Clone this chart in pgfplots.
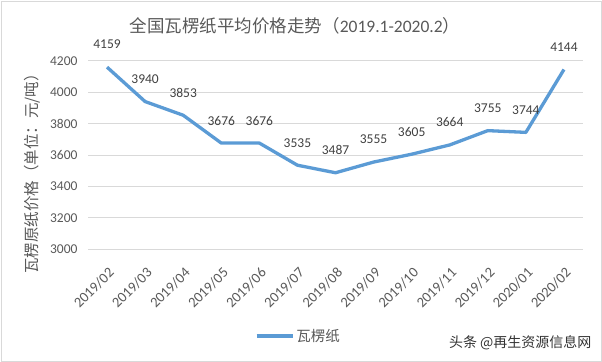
\documentclass[border=0pt]{standalone}
\usepackage{fontspec}
\setmainfont{Carlito}
\newfontfamily\cjk{Noto Sans CJK SC}
\usepackage{pgfplots}
\pgfplotsset{compat=1.18}
\definecolor{lineblue}{RGB}{91,155,213}
\definecolor{gridgray}{RGB}{217,217,217}
\definecolor{txtgray}{RGB}{89,89,89}
\definecolor{lblgray}{RGB}{64,64,64}
\begin{document}
\begin{tikzpicture}
\path[use as bounding box] (0,0) rectangle (602bp,362bp);
\draw[color=gridgray, line width=0.8bp] (1.5bp,1bp) rectangle (601bp,360.5bp);
\begin{axis}[
  at={(88bp,112.7bp)}, anchor=south west,
  width=495bp, height=188.6bp, scale only axis,
  xmin=-0.5, xmax=12.5, ymin=3000, ymax=4200,
  xtick={0,...,12},
  xticklabels={2019/02,2019/03,2019/04,2019/05,2019/06,2019/07,2019/08,2019/09,2019/10,2019/11,2019/12,2020/01,2020/02},
  ytick={3000,3200,...,4200},
  ymajorgrids, grid style={color=gridgray, line width=0.8bp},
  axis line style={draw=none},
  major tick style={draw=none},
  /pgf/number format/1000 sep={},
  /pgf/number format/assume math mode=true,
  yticklabel style={font=\fontsize{13.5bp}{16bp}\selectfont, text=txtgray, xshift=-7bp},
  xticklabel style={font=\fontsize{14.5bp}{17bp}\selectfont, text=txtgray,
     inner sep=0pt, xshift=4.5bp, yshift=-21bp, rotate=45, anchor=east},
  legend style={at={(0.425,-0.46)}, anchor=center, draw=none, fill=none,
     font=\cjk\fontsize{14.5bp}{17bp}\selectfont, text=txtgray},
  legend image code/.code={\draw[#1, line width=3.3bp] (0bp,0bp) -- (36bp,0bp);},
  nodes near coords,
  every node near coord/.append style={anchor=center, yshift=22.5bp,
     font=\fontsize{13.5bp}{16bp}\selectfont, text=lblgray},
]
\addplot[color=lineblue, line width=3.3bp, line join=round, mark=none] coordinates {
(0,4159) (1,3940) (2,3853) (3,3676) (4,3676) (5,3535) (6,3487)
(7,3555) (8,3605) (9,3664) (10,3755) (11,3744) (12,4144)
};
\addlegendentry{瓦楞纸}
\end{axis}
\node[text=txtgray, font=\fontsize{17.5bp}{21bp}\selectfont] at (295bp,336bp)
  {{\cjk 全国瓦楞纸平均价格走势（}2019.1-2020.2{\cjk ）}};
\node[rotate=90, text=txtgray, font=\cjk\fontsize{15.5bp}{18bp}\selectfont] at (32bp,192bp)
  {瓦楞原纸价格（单位：元/吨）};
\node[anchor=east, text=black!80, font=\cjk\fontsize{14bp}{17bp}\selectfont] at (595bp,19bp)
  {头条 @再生资源信息网};
\end{tikzpicture}
\end{document}
